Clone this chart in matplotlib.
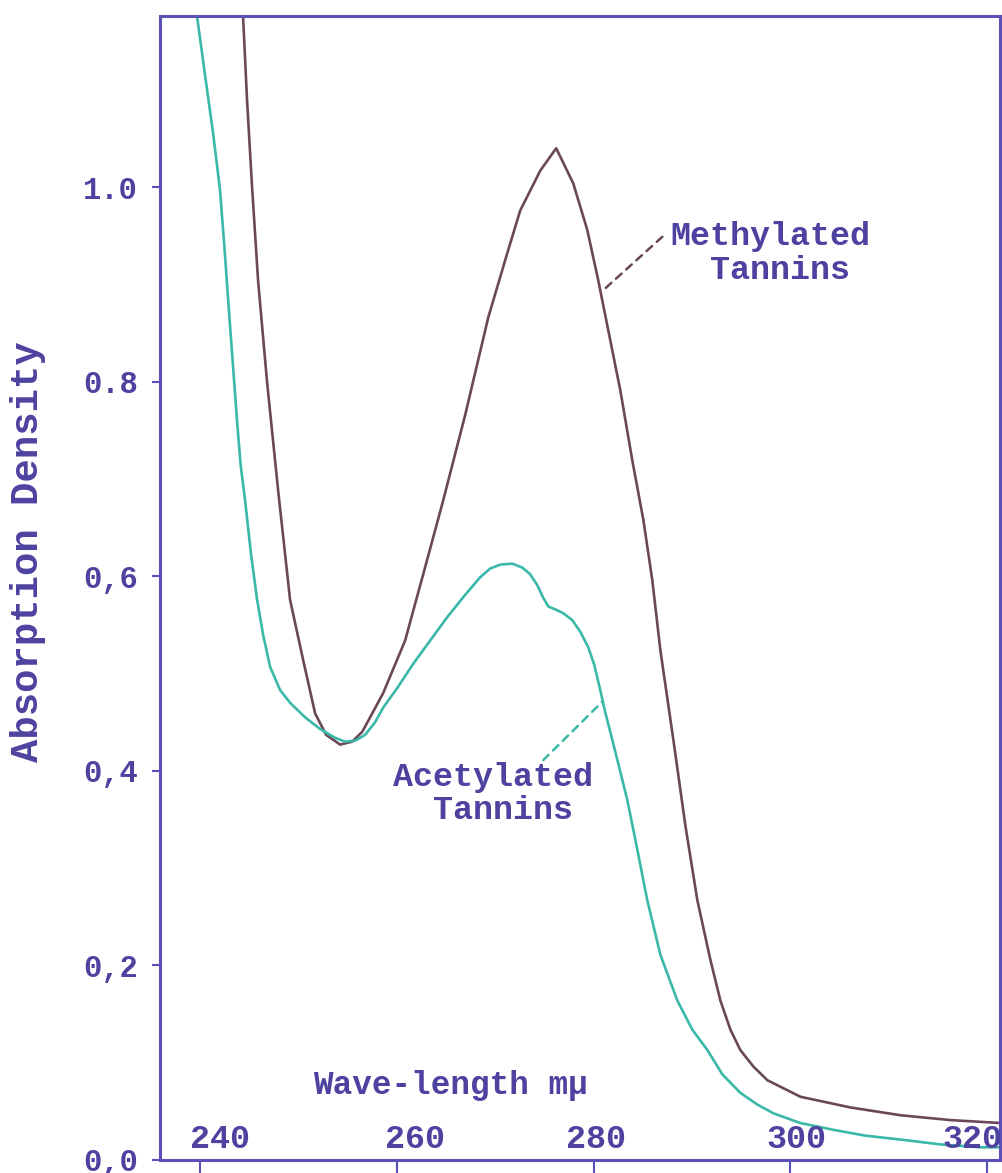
import matplotlib

matplotlib.use("Agg")
import matplotlib.pyplot as plt
import numpy as np

# wavelength (m\u03bc) and absorption density
methyl_wl = np.array([244.34, 244.75, 245.26, 245.87, 246.79, 247.90, 249.12, 250.45,
                      251.67, 252.79, 254.21, 255.43, 256.45, 257.26, 258.59, 260.82,
                      263.06, 264.69, 266.93, 269.27, 271.20, 272.52, 274.56, 276.18,
                      277.91, 279.34, 280.46, 282.70, 283.92, 285.04, 285.95, 286.77,
                      288.09, 289.31, 290.53, 291.85, 292.87, 293.89, 294.90, 296.23,
                      297.65, 301.01, 306.09, 311.18, 316.26, 321.35])
methyl_od = np.array([1.176, 1.089, 1.000, 0.904, 0.799, 0.689, 0.576, 0.514,
                      0.459, 0.437, 0.427, 0.430, 0.440, 0.455, 0.480, 0.534,
                      0.617, 0.678, 0.766, 0.866, 0.932, 0.976, 1.017, 1.040,
                      1.004, 0.956, 0.904, 0.791, 0.719, 0.658, 0.596, 0.524,
                      0.432, 0.344, 0.267, 0.206, 0.164, 0.134, 0.113, 0.096,
                      0.082, 0.065, 0.054, 0.046, 0.041, 0.038])

acetyl_wl = np.array([239.66, 240.48, 241.29, 242.00, 242.45, 242.90, 243.33, 243.72,
                      244.10, 244.55, 245.16, 245.77, 246.38, 247.09, 248.11, 249.12,
                      250.65, 252.18, 253.70, 254.72, 255.74, 256.75, 257.77, 258.59,
                      260.01, 261.64, 263.37, 265.10, 266.93, 268.45, 269.47, 270.49,
                      271.71, 272.73, 273.54, 274.25, 274.86, 275.37, 276.08, 276.90,
                      277.81, 278.63, 279.44, 280.05, 280.66, 281.17, 281.88, 282.70,
                      283.41, 284.43, 285.44, 286.77, 288.49, 290.02, 291.55, 293.07,
                      294.90, 296.63, 298.26, 301.00, 304.36, 307.62, 311.18, 315.25,
                      319.32, 321.35])
acetyl_od = np.array([1.176, 1.115, 1.056, 0.997, 0.938, 0.874, 0.815, 0.761,
                      0.714, 0.678, 0.622, 0.576, 0.540, 0.507, 0.483, 0.470,
                      0.455, 0.443, 0.434, 0.430, 0.431, 0.437, 0.450, 0.465,
                      0.485, 0.510, 0.534, 0.558, 0.581, 0.599, 0.608, 0.612,
                      0.613, 0.609, 0.602, 0.591, 0.578, 0.569, 0.566, 0.562,
                      0.555, 0.543, 0.527, 0.509, 0.483, 0.460, 0.432, 0.399,
                      0.370, 0.319, 0.267, 0.211, 0.164, 0.134, 0.113, 0.088,
                      0.069, 0.057, 0.048, 0.038, 0.031, 0.025, 0.021, 0.016,
                      0.013, 0.013])

x_ticks = [240, 260, 280, 300, 320]
y_ticks = [0.0, 0.2, 0.4, 0.6, 0.8, 1.0]
y_tick_labels = ["0,0", "0,2", "0,4", "0,6", "0.8", "1.0"]

INK = "#4e42a0"
FRAME = "#5a50b8"
BROWN = "#6b4857"
TEAL = "#3ab8a8"
FONT = ["Liberation Mono", "DejaVu Sans Mono"]

plt.rcParams["font.family"] = FONT
plt.rcParams["font.weight"] = "bold"

fig = plt.figure(figsize=(10.02, 11.73), dpi=100)
ax = fig.add_axes([0.1597, 0.0111, 0.8383, 0.9753])

ax.plot(methyl_wl, methyl_od, color=BROWN, lw=1.9, solid_joinstyle="round")
ax.plot(acetyl_wl, acetyl_od, color=TEAL, lw=1.9, solid_joinstyle="round")

ax.set_xlim(235.9, 321.3)
ax.set_ylim(0, 1.176)

for side in ("left", "bottom", "top", "right"):
    ax.spines[side].set_color(FRAME)
    ax.spines[side].set_linewidth(2.2)

ax.set_yticks(y_ticks, labels=y_tick_labels)
ax.tick_params(axis="y", direction="out", length=6, width=1.5, color=FRAME,
               labelcolor=INK, labelsize=22, pad=10)
ax.set_xticks(x_ticks, labels=[])
ax.tick_params(axis="x", direction="out", length=9, width=1.5, color=FRAME)

# wavelength numbers are typed inside the frame, a bit off their ticks
label_shift = [2.0, 1.8, 0.2, 0.6, -1.5]
for t, dx in zip(x_ticks, label_shift):
    ax.text(t + dx, 0.021, str(t), color=INK, fontsize=24, ha="center", va="center")

ax.text(265.4, 0.077, "Wave-length m\u03bc", color=INK, fontsize=23.5,
        ha="center", va="center")
fig.text(0.028, 0.53, "Absorption Density", color=INK, fontsize=28,
         rotation=90, ha="center", va="center")

ax.text(297.95, 0.932, "Methylated\n Tannins", color=INK, fontsize=24,
        ha="center", va="center", linespacing=1.1)
ax.annotate("", xy=(281.17, 0.896), xytext=(286.97, 0.949),
            arrowprops=dict(arrowstyle="-", color=BROWN, lw=1.8, ls=(0, (3, 2.5)),
                            shrinkA=0, shrinkB=0))
ax.text(269.73, 0.376, "Acetylated\n Tannins", color=INK, fontsize=24,
        ha="center", va="center", linespacing=1.1)
ax.annotate("", xy=(280.86, 0.471), xytext=(274.86, 0.411),
            arrowprops=dict(arrowstyle="-", color=TEAL, lw=1.8, ls=(0, (3, 2.5)),
                            shrinkA=0, shrinkB=0))

fig.savefig("out.png", dpi=100)
